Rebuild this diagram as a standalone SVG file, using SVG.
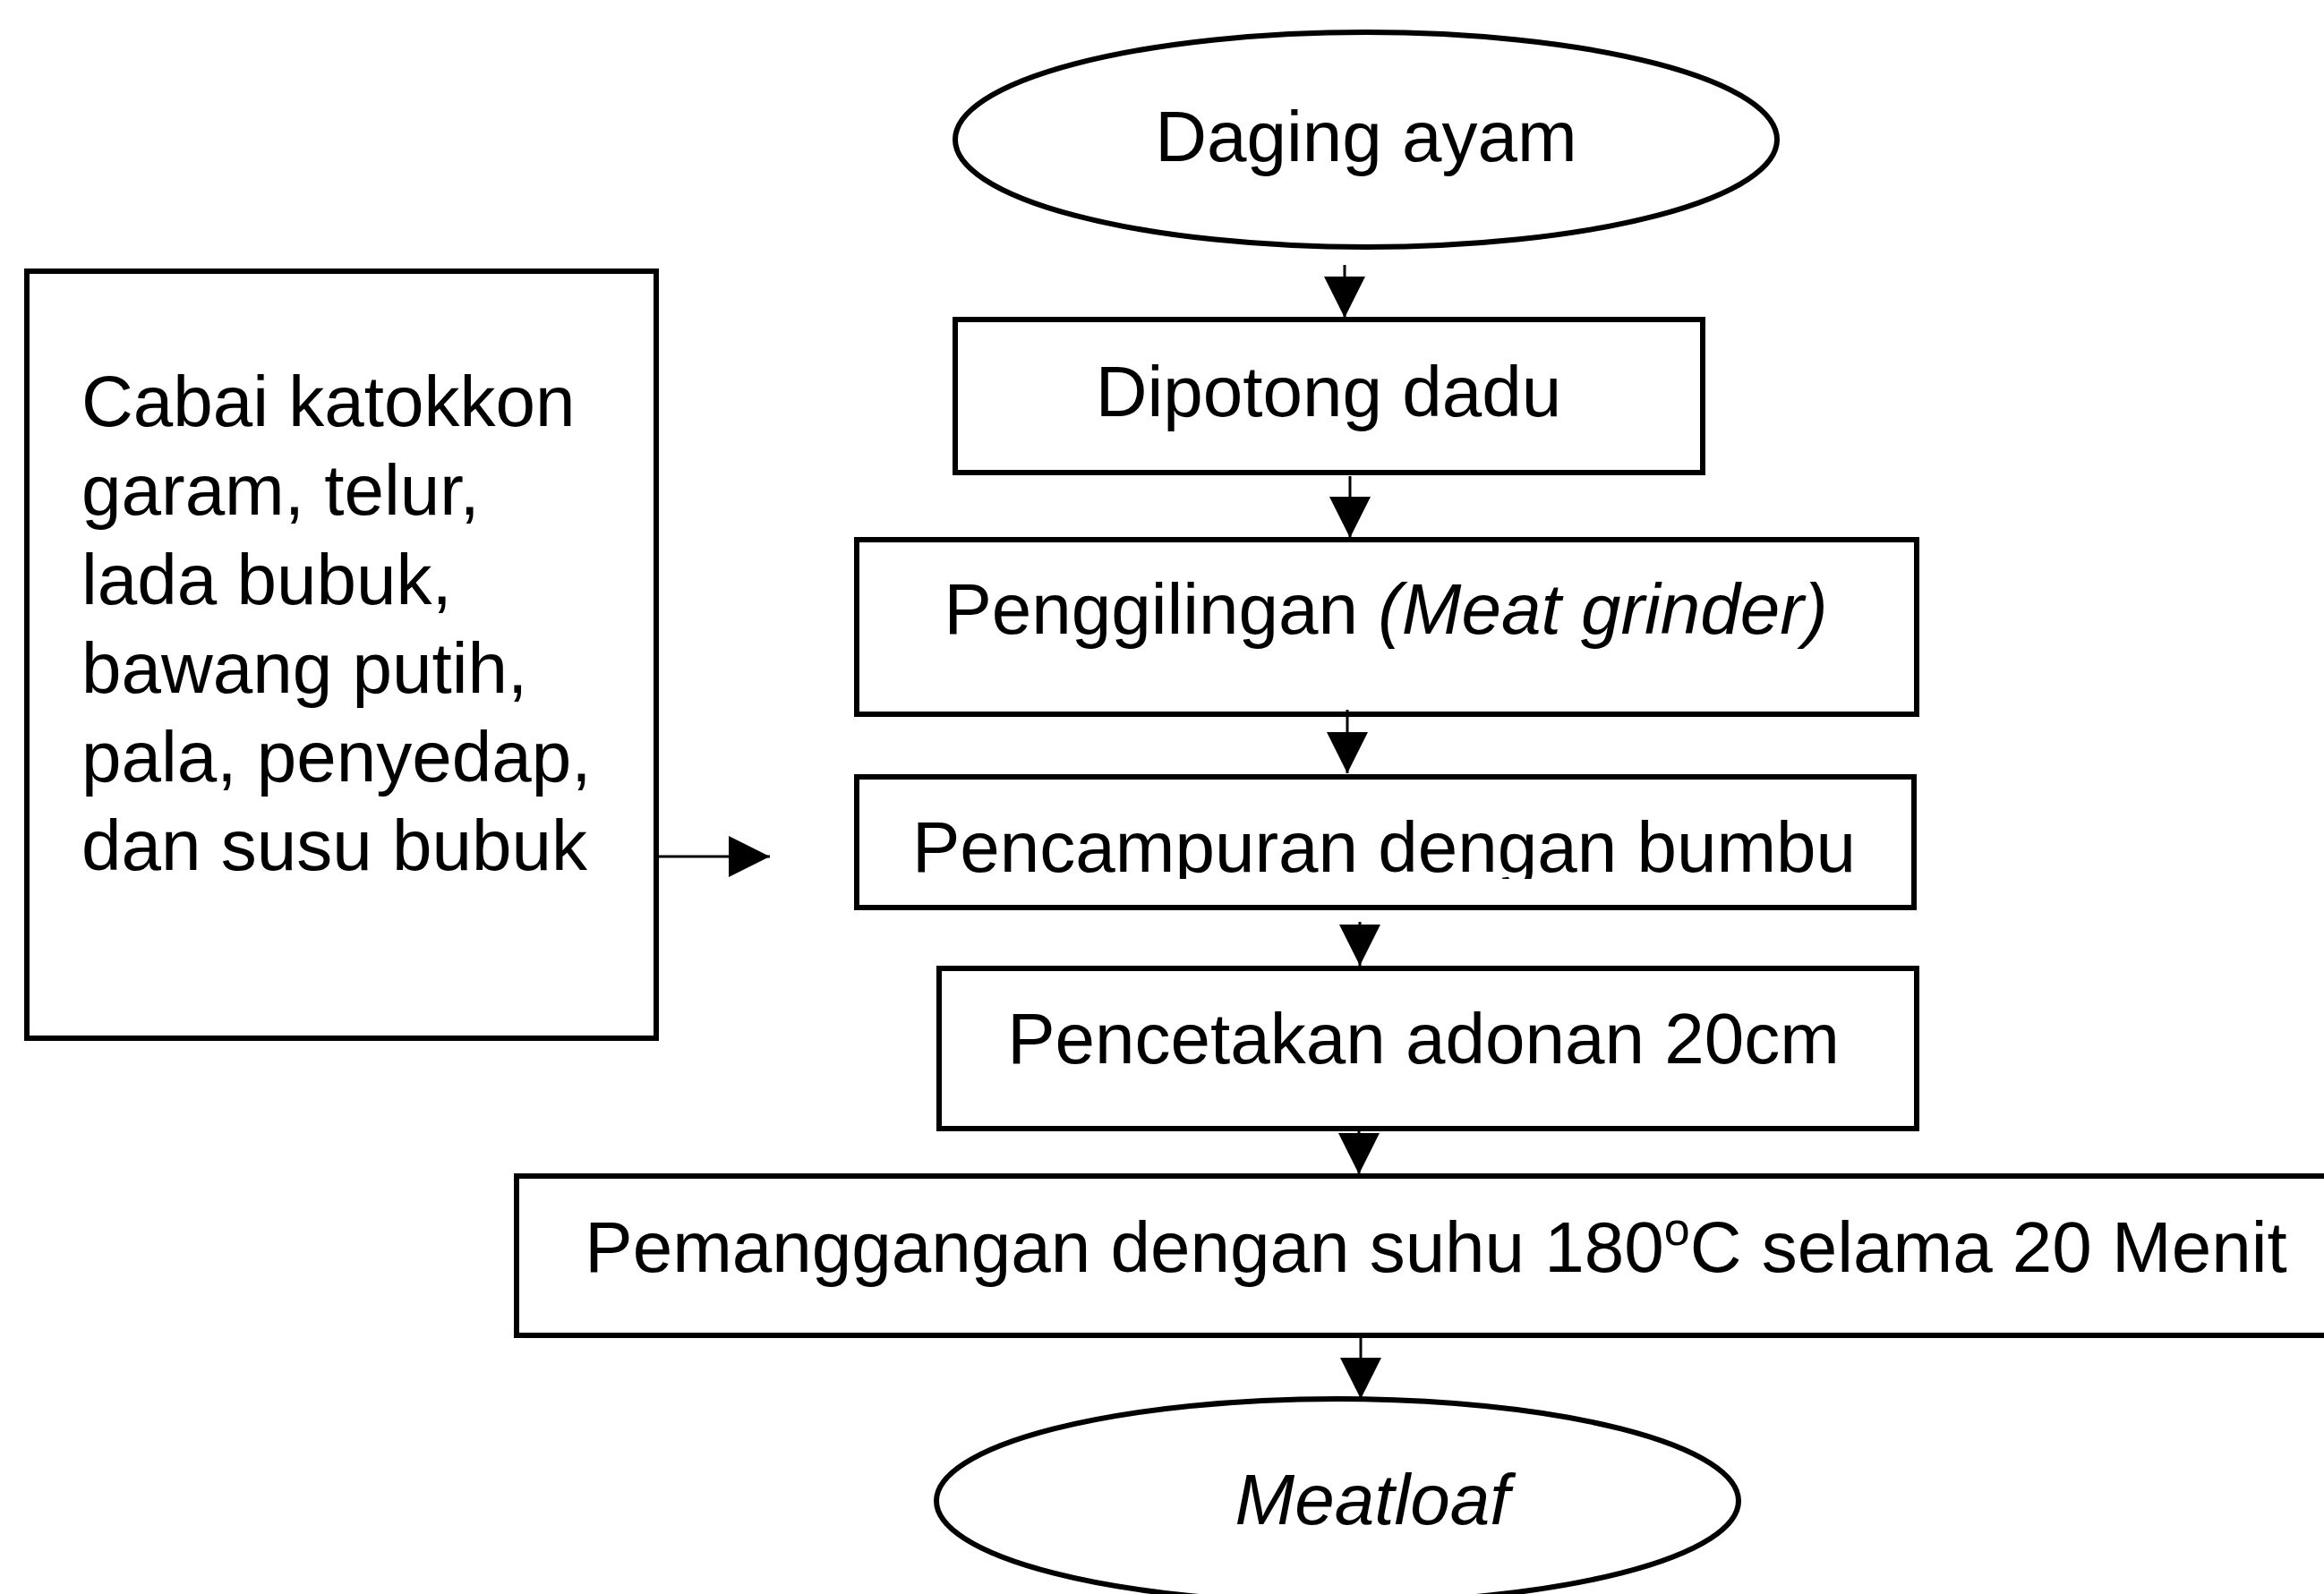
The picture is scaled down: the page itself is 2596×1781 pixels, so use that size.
<svg xmlns="http://www.w3.org/2000/svg" width="2596" height="1781" viewBox="0 0 2596 1781">
<style>
.shape{fill:#fff;stroke:#000;stroke-width:6}
.t{font-family:"Liberation Sans",Arial,sans-serif;font-size:80px;fill:#000}
.c{text-anchor:middle}
.it{font-style:italic}
.conn line{stroke:#000;stroke-width:3}
</style>
<defs>
<marker id="ah" viewBox="0 0 10 10" refX="10" refY="5" markerUnits="userSpaceOnUse" markerWidth="50" markerHeight="46" orient="auto">
<path d="M0,0 L10,5 L0,10 z" fill="#000"/>
</marker>
<clipPath id="clip4"><rect x="954" y="866" width="1190" height="116"/></clipPath>
</defs>
<rect width="2596" height="1781" fill="#fff"/>
<g id="n-daging">
<ellipse class="shape" cx="1526" cy="156" rx="459" ry="120"/>
<text class="t c" x="1526" y="180">Daging ayam</text>
</g>
<g id="n-dipotong">
<rect class="shape" x="1067" y="357" width="835" height="171"/>
<text class="t c" x="1484" y="465">Dipotong dadu</text>
</g>
<g id="n-penggilingan">
<rect class="shape" x="957" y="603" width="1184" height="195"/>
<text class="t c" x="1548" y="708">Penggilingan <tspan class="it">(Meat grinder)</tspan></text>
</g>
<g id="n-pencampuran">
<rect class="shape" x="957" y="868" width="1181" height="146"/>
<text class="t c" x="1546" y="974" clip-path="url(#clip4)">Pencampuran dengan bumbu</text>
</g>
<g id="n-pencetakan">
<rect class="shape" x="1049" y="1082" width="1092" height="179"/>
<text class="t c" x="1590" y="1188">Pencetakan adonan 20cm</text>
</g>
<g id="n-pemanggangan">
<rect class="shape" x="577" y="1314" width="2100" height="178"/>
<text class="t c" x="1604" y="1421">Pemanggangan dengan suhu 180<tspan dy="-30" style="font-size:52px">o</tspan><tspan dy="30">C selama 20 Menit</tspan></text>
</g>
<g id="n-meatloaf">
<ellipse class="shape" cx="1494" cy="1677" rx="448" ry="114"/>
<text class="t c it" x="1533" y="1703">Meatloaf</text>
</g>
<g id="n-bumbu">
<rect class="shape" x="30" y="303" width="703" height="857"/>
<text class="t" x="91" y="476">Cabai katokkon</text>
<text class="t" x="91" y="575">garam, telur,</text>
<text class="t" x="91" y="675">lada bubuk,</text>
<text class="t" x="91" y="774">bawang putih,</text>
<text class="t" x="91" y="873">pala, penyedap,</text>
<text class="t" x="91" y="972">dan susu bubuk</text>
</g>
<g id="connectors" class="conn">
<line x1="1502" y1="296" x2="1502" y2="355" marker-end="url(#ah)"/>
<line x1="1508" y1="532" x2="1508" y2="601" marker-end="url(#ah)"/>
<line x1="1505" y1="793" x2="1505" y2="864" marker-end="url(#ah)"/>
<line x1="1519" y1="1030" x2="1519" y2="1079" marker-end="url(#ah)"/>
<line x1="1518" y1="1262" x2="1518" y2="1312" marker-end="url(#ah)"/>
<line x1="1520" y1="1494" x2="1520" y2="1563" marker-end="url(#ah)"/>
<line x1="736" y1="957" x2="860" y2="957" marker-end="url(#ah)"/>
</g>
</svg>
